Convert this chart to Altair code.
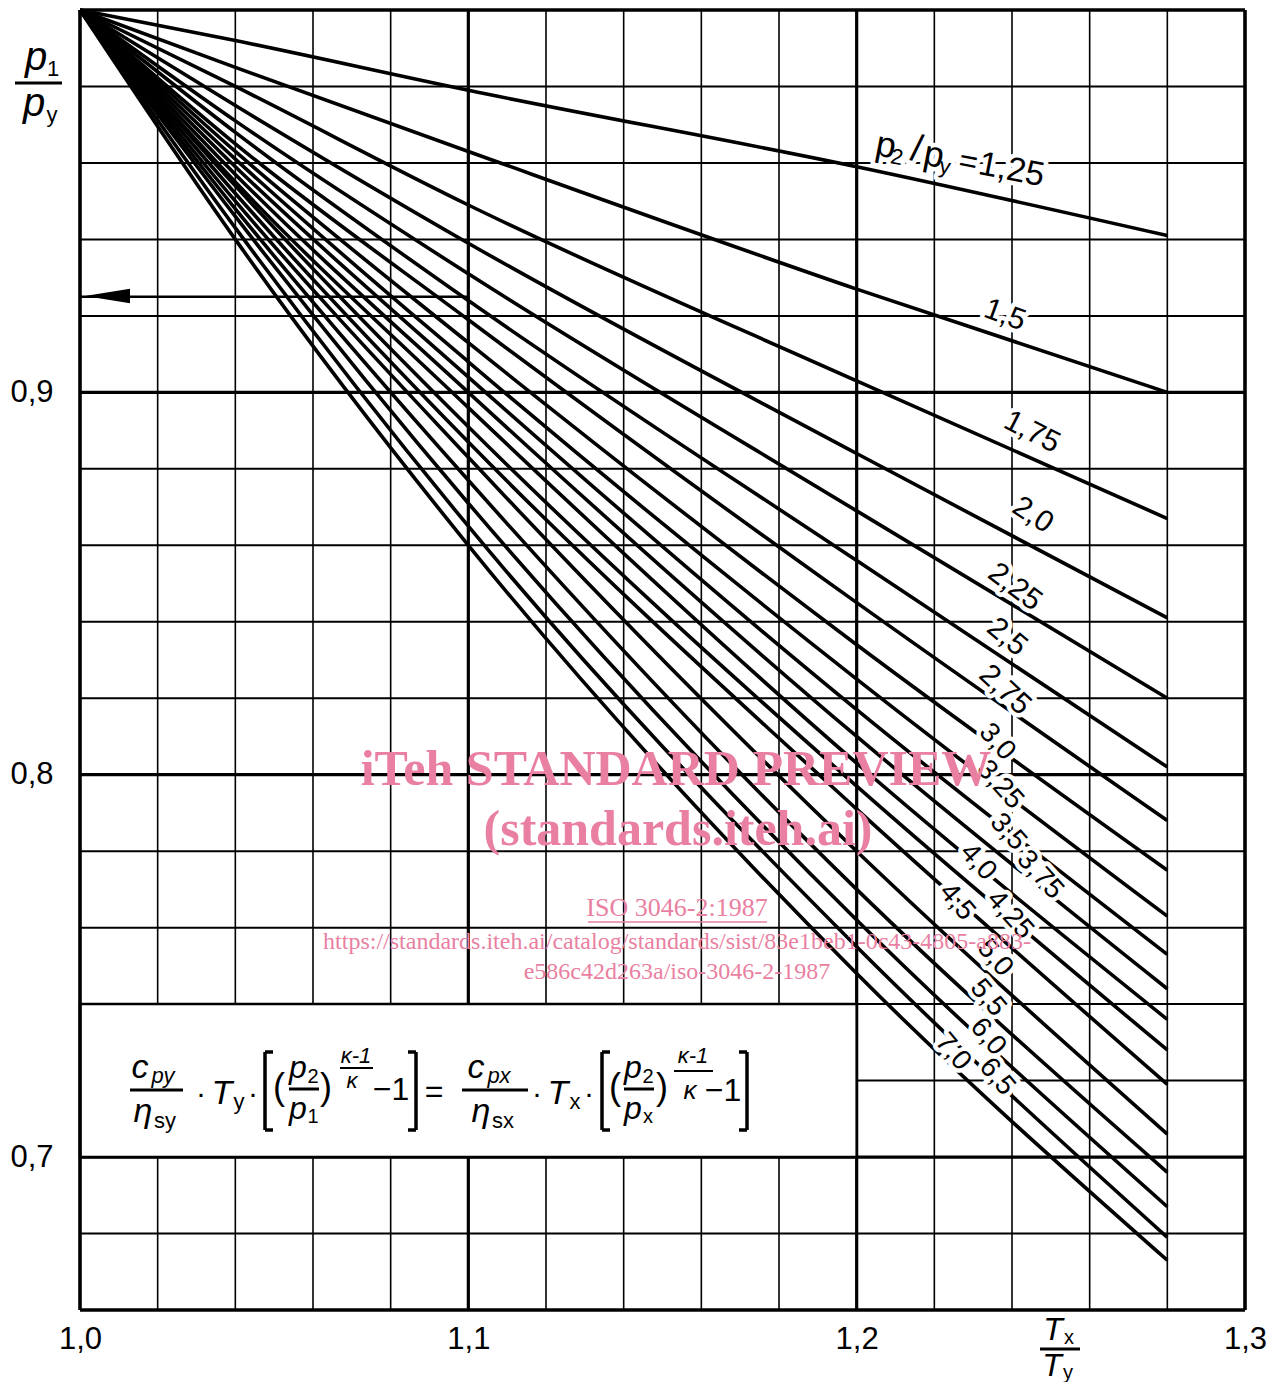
import math
import altair as alt
import pandas as pd

# ---------------- data ----------------
ratio_values = [1.25, 1.5, 1.75, 2.0, 2.25, 2.5, 2.75, 3.0, 3.25, 3.5, 3.75,
                4.0, 4.25, 4.5, 5.0, 5.5, 6.0, 6.5, 7.0]
ratio_labels = ["1,25", "1,5", "1,75", "2,0", "2,25", "2,5", "2,75", "3,0", "3,25",
                "3,5", "3,75", "4,0", "4,25", "4,5", "5,0", "5,5", "6,0", "6,5", "7,0"]
tx_points = [1.00, 1.04, 1.10, 1.20, 1.28]
p1_at_1_00 = [1.000, 1.000, 1.000, 1.000, 1.000, 1.000, 1.000, 1.000, 1.000, 1.000,
              1.000, 1.000, 1.000, 1.000, 1.000, 1.000, 1.000, 1.000, 1.000]
p1_at_1_04 = [0.992, 0.985, 0.980, 0.975, 0.971, 0.968, 0.965, 0.963, 0.961, 0.959,
              0.957, 0.955, 0.954, 0.952, 0.950, 0.948, 0.946, 0.943, 0.940]
p1_at_1_10 = [0.979, 0.963, 0.949, 0.939, 0.931, 0.924, 0.919, 0.913, 0.908, 0.904,
              0.900, 0.896, 0.891, 0.887, 0.883, 0.877, 0.871, 0.865, 0.860]
p1_at_1_20 = [0.959, 0.927, 0.903, 0.884, 0.869, 0.856, 0.845, 0.834, 0.825, 0.817,
              0.810, 0.803, 0.797, 0.791, 0.780, 0.770, 0.762, 0.755, 0.748]
p1_at_1_28 = [0.941, 0.900, 0.867, 0.841, 0.820, 0.802, 0.788, 0.775, 0.763, 0.753,
              0.744, 0.736, 0.728, 0.719, 0.706, 0.696, 0.687, 0.679, 0.673]

x_ticks = [1.0, 1.1, 1.2, 1.3]
y_ticks = [0.7, 0.8, 0.9]
grid_x_minor = [1.02, 1.04, 1.06, 1.08, 1.12, 1.14, 1.16, 1.18, 1.22, 1.24, 1.26, 1.28]
grid_x_major = [1.10, 1.20]
grid_y_minor = [0.68, 0.72, 0.74, 0.76, 0.78, 0.82, 0.84, 0.86, 0.88, 0.92, 0.94, 0.96, 0.98]
grid_y_major = [0.70, 0.80, 0.90]
frame_x = [1.00, 1.30]
frame_y = [0.66, 1.00]
arrow_p1 = 0.925
arrow_tx = [1.00, 1.10]
formula_box = {"x": 1.00, "x2": 1.20, "y": 0.70, "y2": 0.74}

# ---------------- layout ----------------
W, H = 1165, 1300
PAD = {"left": 72, "top": 2, "right": 22, "bottom": 72}
OX, OY = 8 + PAD["left"], 8 + PAD["top"]
SANS = "Liberation Sans, Arial, sans-serif"
SERIF = "Liberation Serif, DejaVu Serif, serif"
PINK = "#e97fa1"

xs = alt.Scale(domain=[1.0, 1.3], nice=False, zero=False)
ys = alt.Scale(domain=[0.66, 1.0], nice=False, zero=False)
lab_expr = "replace(format(datum.value, '.1f'), '.', ',')"
x_axis = alt.Axis(values=x_ticks, labelExpr=lab_expr, title=None, grid=False, ticks=False,
                  domain=False, labelFont=SANS, labelFontSize=31, labelColor="black",
                  labelPadding=14, labelFlush=False, labelOverlap=False, labelBound=False)
y_axis = alt.Axis(values=y_ticks, labelExpr=lab_expr, title=None, grid=False, ticks=False,
                  domain=False, labelFont=SANS, labelFontSize=31, labelColor="black",
                  labelPadding=27, labelOverlap=False, labelBound=False)

def X(f):
    return alt.X(f, scale=xs, axis=x_axis)

def Y(f):
    return alt.Y(f, scale=ys, axis=y_axis)

# ---------------- curves ----------------
cols = [p1_at_1_00, p1_at_1_04, p1_at_1_10, p1_at_1_20, p1_at_1_28]
rows = []
for i, r in enumerate(ratio_values):
    for j, t in enumerate(tx_points):
        rows.append({"r": r, "tx": t, "p": cols[j][i]})
curves_df = pd.DataFrame(rows)

curves = alt.Chart(curves_df).mark_line(color="black", strokeWidth=3.6,
                                         interpolate="monotone").encode(
    x=X("tx:Q"), y=Y("p:Q"), detail="r:N")

def vrules(vals, w):
    return alt.Chart(pd.DataFrame({"v": vals})).mark_rule(color="black", strokeWidth=w).encode(x=X("v:Q"))

def hrules(vals, w):
    return alt.Chart(pd.DataFrame({"v": vals})).mark_rule(color="black", strokeWidth=w).encode(y=Y("v:Q"))

box = alt.Chart(pd.DataFrame([formula_box])).mark_rect(fill="white", stroke="black", strokeWidth=2.5).encode(
    x=X("x:Q"), x2="x2:Q", y=Y("y:Q"), y2="y2:Q")

arrow_line = alt.Chart(pd.DataFrame({"a": [arrow_tx[0]], "b": [arrow_tx[1]], "p": [arrow_p1]})).mark_rule(
    color="black", strokeWidth=2.6).encode(x=X("a:Q"), x2="b:Q", y=Y("p:Q"))

def pix(rows_):
    return pd.DataFrame([{"x": x - OX, "y": y - OY} for x, y in rows_])

arrow_head = alt.Chart(pix([(107.5, 296)])).mark_point(
    shape="M-1,0L1,-0.32L1,0.32Z", size=2025, filled=True, color="black", opacity=1).encode(
    x=alt.X("x:Q", scale=None, axis=None), y=alt.Y("y:Q", scale=None, axis=None))

# ---------------- text helpers ----------------
def texts(items, font, style="normal", weight="normal", color="black", halo=0):
    df = pd.DataFrame([{"t": t, "x": x - OX, "y": y - OY, "s": s, "a": a % 360}
                       for (t, x, y, s, a) in items])
    kw = dict(font=font, fontStyle=style, fontWeight=weight, align="center", baseline="middle")
    if halo:
        kw.update(fill="white", stroke="white", strokeWidth=halo, strokeJoin="round")
    else:
        kw.update(fill=color)
    return alt.Chart(df).mark_text(**kw).encode(
        x=alt.X("x:Q", scale=None, axis=None), y=alt.Y("y:Q", scale=None, axis=None),
        text="t:N", size=alt.Size("s:Q", scale=None, legend=None),
        angle=alt.Angle("a:Q", scale=None))

def segs(items, w=3, color="black"):
    df = pd.DataFrame([{"x": a - OX, "y": b - OY, "x2": c - OX, "y2": d - OY}
                       for (a, b, c, d) in items])
    return alt.Chart(df).mark_rule(color=color, strokeWidth=w).encode(
        x=alt.X("x:Q", scale=None, axis=None), y=alt.Y("y:Q", scale=None, axis=None),
        x2="x2:Q", y2="y2:Q")

def hbars(items, w=3, color="black"):
    return segs([(a, y, b, y) for (a, b, y) in items], w, color)

def bracket(x, top, bot, side):
    d = 8 if side == "left" else -8
    return [(x, top, x, bot), (x, top, x + d, top), (x, bot, x + d, bot)]

# curve labels (page coordinates of label centres, size, angle)
label_pos = [(1005, 315, 30, 20), (1032, 432, 30, 27), (1033, 515, 30, 33), (1015, 587, 30, 37),
             (1007, 637, 30, 40), (1005, 690, 30, 43), (997, 742, 28, 48), (1000, 785, 28, 48),
             (1008, 832, 28, 48), (1040, 875, 28, 48), (978, 862, 28, 48), (1010, 915, 28, 48),
             (957, 902, 28, 50), (995, 958, 28, 50), (988, 998, 28, 50), (988, 1037, 28, 50),
             (997, 1077, 28, 50), (953, 1052, 28, 50)]
curve_labels = [(ratio_labels[i + 1],) + label_pos[i] for i in range(len(label_pos))]

# composite first label "p2/py = 1,25" along a rotated baseline
ang = 11.0
ca, sa = math.cos(math.radians(ang)), math.sin(math.radians(ang))
ax0, ay0 = 876, 144
first_pieces = [("p", 10, 0, 36), ("2", 23, 9, 22), ("/", 41, -2, 38), ("p", 59, 0, 36),
                ("y", 72, 9, 22), ("=", 94, 0, 32), (ratio_labels[0], 138, 0, 34)]
first_label = [(t, ax0 + al * ca - pp * sa, ay0 + al * sa + pp * ca, s, ang)
               for (t, al, pp, s) in first_pieces]

all_labels = first_label + curve_labels
halo_layer = texts(all_labels, SANS, halo=9)
label_layer = texts(all_labels, SANS)

# axis titles
axis_title_it = [("p", 36, 58, 40, 0), ("p", 34, 104, 40, 0),
                 ("T", 1053, 1330, 32, 0), ("T", 1052, 1366, 32, 0)]
axis_title_sub = [("1", 53, 69, 22, 0), ("y", 52, 115, 22, 0),
                  ("x", 1069, 1338, 20, 0), ("y", 1068, 1373, 20, 0)]
axis_bars = [(15, 62, 83), (1040, 1080, 1349)]

# formula
f_it = [("c", 140, 1068, 34, 0), ("py", 163, 1076, 22, 0), ("η", 143, 1112, 34, 0),
        ("T", 222, 1094, 34, 0), ("p", 298, 1068, 32, 0), ("p", 298, 1109, 32, 0),
        ("κ-1", 356, 1056, 22, 0), ("κ", 352, 1081, 22, 0),
        ("c", 476, 1068, 34, 0), ("px", 499, 1076, 22, 0), ("η", 481, 1112, 34, 0),
        ("T", 558, 1094, 34, 0), ("p", 633, 1068, 32, 0), ("p", 633, 1109, 32, 0),
        ("κ-1", 693, 1056, 22, 0), ("κ", 690, 1091, 26, 0)]
f_rm = [("sy", 165, 1121, 22, 0), ("·", 201, 1094, 30, 0), ("y", 239, 1102, 22, 0),
        ("·", 253, 1094, 30, 0), ("(", 279, 1088, 36, 0), ("2", 313, 1077, 20, 0),
        ("1", 313, 1117, 20, 0), (")", 326, 1088, 36, 0), ("−1", 391, 1090, 32, 0),
        ("=", 434, 1092, 32, 0),
        ("sx", 503, 1121, 22, 0), ("·", 537, 1094, 30, 0), ("x", 575, 1102, 22, 0),
        ("·", 589, 1094, 30, 0), ("(", 615, 1088, 36, 0), ("2", 648, 1077, 20, 0),
        ("x", 648, 1117, 20, 0), (")", 662, 1088, 36, 0), ("−1", 723, 1091, 32, 0)]
f_brackets = (bracket(265, 1052, 1130, "left") + bracket(416, 1052, 1130, "right") +
              bracket(602, 1052, 1130, "left") + bracket(747, 1052, 1130, "right"))
f_bars = [(130, 183, 1090), (289, 319, 1089), (462, 528, 1090), (624, 654, 1089)]
f_bars_thin = [(340, 373, 1068), (674, 713, 1071)]

# watermark
wm_bold = [("iTeh STANDARD PREVIEW", 676, 770, 50, 0), ("(standards.iteh.ai)", 678, 830, 50, 0)]
wm_reg = [("ISO 3046-2:1987", 677, 908, 26, 0),
          ("https://standards.iteh.ai/catalog/standards/sist/83e1beb1-0c43-4805-a883-", 677, 942, 24, 0),
          ("e586c42d263a/iso-3046-2-1987", 677, 972, 24, 0)]
wm_bar = [(588, 767, 922)]

chart = alt.layer(
    hrules(grid_y_minor, 2.0),
    vrules(grid_x_minor, 1.6),
    hrules(grid_y_major, 3.2),
    vrules(grid_x_major, 3.2),
    box,
    curves,
    arrow_line,
    arrow_head,
    halo_layer,
    label_layer,
    vrules(frame_x, 3.6),
    hrules(frame_y, 3.6),
    texts(axis_title_it, SANS, style="italic"),
    texts(axis_title_sub, SANS),
    hbars(axis_bars, 3),
    texts(f_it, SANS, style="italic"),
    texts(f_rm, SANS),
    segs(f_brackets, 3.5),
    hbars(f_bars, 3),
    hbars(f_bars_thin, 2),
    texts(wm_bold, SERIF, weight="bold", color=PINK),
    texts(wm_reg, SERIF, color=PINK),
    hbars(wm_bar, 1.5, PINK),
).properties(
    width=W, height=H, padding=PAD, autosize=alt.AutoSizeParams(type="none")
).configure_view(stroke=None).configure(background="white")

chart.save("out.html", embed_options={"renderer": "svg", "actions": False})
